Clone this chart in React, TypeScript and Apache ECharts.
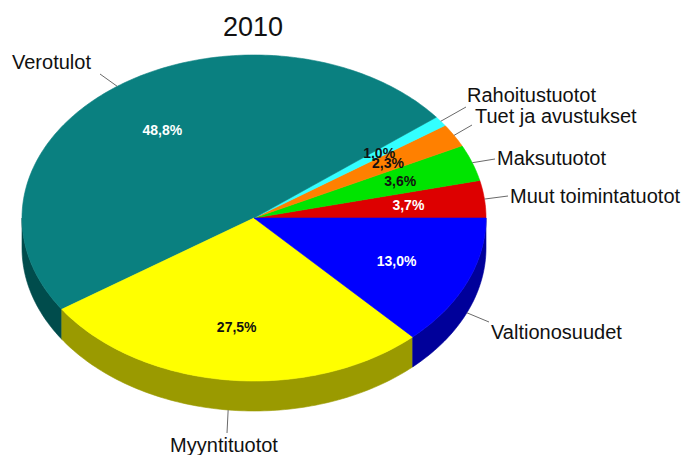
import React, { useEffect, useRef } from 'react';
import * as echarts from 'echarts';

// ---- data (counter-clockwise from 3 o'clock) ----
const CATEGORIES = [
  'Muut toimintatuotot',
  'Maksutuotot',
  'Tuet ja avustukset',
  'Rahoitustuotot',
  'Verotulot',
  'Myyntituotot',
  'Valtionosuudet',
];
const VALUES = [3.7, 3.6, 2.3, 1.0, 48.8, 27.5, 13.0];
const TITLE = '2010';

// ---- styles ----
const COLORS = ['#dd0000', '#00e400', '#ff8000', '#33ffff', '#0a8080', '#ffff00', '#0000ff'];
const SIDE_COLORS = ['#8a0000', '#008a00', '#a05000', '#20a0a0', '#004c4c', '#9a9a00', '#00009a'];
const LABEL_COLORS = ['#ffffff', '#111111', '#111111', '#111111', '#ffffff', '#111111', '#ffffff'];

// ---- layout ----
const CX = 254;
const CY = 218;
const RX = 232;
const RY = 163;
const DEPTH = 30;
const INNER_F = 0.67;
// leader line end (lx, ly) and category-text anchor (tx, ty, align)
const LABEL_LAYOUT = [
  { lx: 508, ly: 196, tx: 510, ty: 196, align: 'left' },
  { lx: 495, ly: 159, tx: 497, ty: 158, align: 'left' },
  { lx: 472, ly: 125, tx: 475, ty: 116, align: 'left' },
  { lx: 466, ly: 107, tx: 467, ty: 95, align: 'left' },
  { lx: 100, ly: 74, tx: 12, ty: 62, align: 'left' },
  { lx: 227, ly: 433, tx: 224, ty: 445, align: 'center' },
  { lx: 489, ly: 322, tx: 491, ty: 332, align: 'left' },
];

const FONT = '"Liberation Sans", Arial, sans-serif';

export default function App() {
  const ref = useRef<HTMLDivElement>(null);

  useEffect(() => {
    document.body.style.margin = '0';
    const chart = echarts.init(ref.current!, null, { renderer: 'svg' });

    const total = VALUES.reduce((a, b) => a + b, 0);
    const starts: number[] = [];
    let acc = 0;
    for (const v of VALUES) {
      starts.push(acc);
      acc += v;
    }
    const pt = (t: number, r = 1, dy = 0): number[] => [
      CX + RX * r * Math.cos(t),
      CY - RY * r * Math.sin(t) + dy,
    ];
    const arc = (t0: number, t1: number, dy = 0): number[][] => {
      const n = Math.max(2, Math.ceil((t1 - t0) / (Math.PI / 180)));
      const pts: number[][] = [];
      for (let k = 0; k <= n; k++) pts.push(pt(t0 + ((t1 - t0) * k) / n, 1, dy));
      return pts;
    };
    const fmt = (v: number) => v.toFixed(1).replace('.', ',') + '%';

    const renderItem = (params: any, api: any) => {
      const i = params.dataIndex;
      const v = api.value(0) as number;
      const t0 = (2 * Math.PI * starts[i]) / total;
      const t1 = t0 + (2 * Math.PI * v) / total;
      const tm = (t0 + t1) / 2;
      const children: any[] = [];

      // side wall (front half only)
      const s = Math.max(t0, Math.PI);
      const e = Math.min(t1, 2 * Math.PI);
      if (e > s) {
        const top = arc(s, e);
        const bottom = arc(s, e, DEPTH).reverse();
        children.push({
          type: 'polygon',
          shape: { points: top.concat(bottom) },
          style: { fill: SIDE_COLORS[i], stroke: SIDE_COLORS[i], lineWidth: 0.6 },
          z2: 1,
        });
      }

      // top face
      children.push({
        type: 'polygon',
        shape: { points: [[CX, CY]].concat(arc(t0, t1)) },
        style: { fill: COLORS[i], stroke: COLORS[i], lineWidth: 0.6 },
        z2: 2,
      });

      // value label
      const ip = pt(tm, INNER_F);
      children.push({
        type: 'text',
        x: ip[0],
        y: ip[1],
        style: {
          text: fmt(v),
          fill: LABEL_COLORS[i],
          fontSize: 14,
          fontWeight: 'bold',
          fontFamily: FONT,
          align: 'center',
          verticalAlign: 'middle',
        },
        z2: 30 - i,
      });

      // leader line + category label
      const front = Math.sin(tm) < 0;
      const ep = pt(tm, 1, front ? DEPTH : 0);
      const L = LABEL_LAYOUT[i];
      children.push({
        type: 'line',
        shape: { x1: ep[0], y1: ep[1], x2: L.lx, y2: L.ly },
        style: { stroke: '#6a6a6a', lineWidth: 1 },
        z2: 40,
      });
      children.push({
        type: 'text',
        x: L.tx,
        y: L.ty,
        style: {
          text: CATEGORIES[i],
          fill: '#111111',
          fontSize: 20,
          fontFamily: FONT,
          align: L.align,
          verticalAlign: 'middle',
        },
        z2: 41,
      });

      return { type: 'group', children };
    };

    chart.setOption({
      animation: false,
      backgroundColor: '#ffffff',
      title: {
        text: TITLE,
        left: 248,
        top: 8,
        textAlign: 'center',
        textStyle: {
          fontSize: 27,
          fontWeight: 'normal',
          fontFamily: FONT,
          color: '#111111',
        },
      },
      series: [
        {
          type: 'custom',
          coordinateSystem: 'none',
          silent: true,
          data: CATEGORIES.map((name, i) => ({ name, value: VALUES[i] })),
          renderItem,
        },
      ],
    });

    return () => chart.dispose();
  }, []);

  return (
    <div
      ref={ref}
      style={{ position: 'fixed', left: 0, top: 0, width: 685, height: 455 }}
    />
  );
}
